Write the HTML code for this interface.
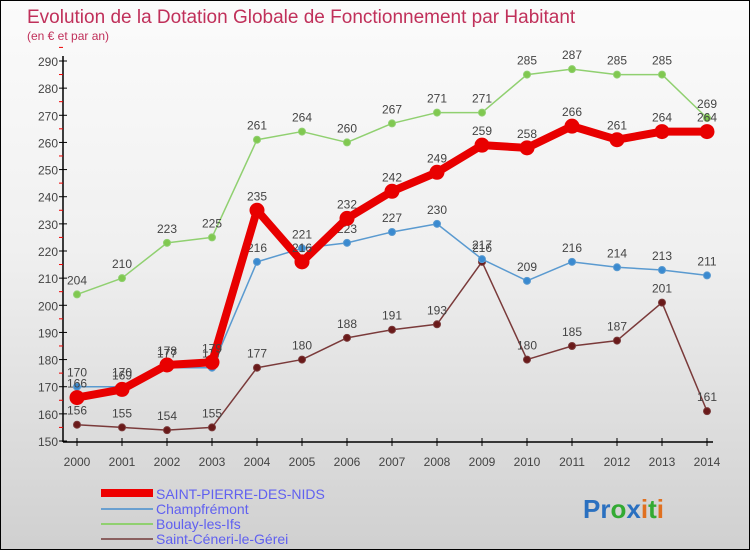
<!DOCTYPE html>
<html><head><meta charset="utf-8"><style>
body{margin:0}
#c{width:750px;height:550px;position:relative;overflow:hidden;box-sizing:border-box;border:1px solid #000;background:linear-gradient(#fbfbfb 0%,#f0f0f0 45%,#d0d0d0 100%);font-family:"Liberation Sans",sans-serif}
</style></head><body>
<div id="c">
<svg id="s" width="750" height="550" style="position:absolute;left:0;top:0">
<text x="26" y="22" font-size="19" fill="#c0305a">Evolution de la Dotation Globale de Fonctionnement par Habitant</text>
<text x="26" y="39" font-size="12" fill="#c0305a">(en € et par an)</text>
<g id="ax"></g><g id="ser"></g>
<g>
<rect x="100" y="488" width="52" height="8" fill="#e00"/>
<text x="155" y="498" font-size="14" fill="#6060f0">SAINT-PIERRE-DES-NIDS</text>
<rect x="100" y="507" width="52" height="2" fill="#6aa0d0"/>
<text x="155" y="513" font-size="14" fill="#6060f0">Champfrémont</text>
<rect x="100" y="522" width="52" height="2" fill="#90d070"/>
<text x="155" y="528" font-size="14" fill="#6060f0">Boulay-les-Ifs</text>
<rect x="100" y="537" width="52" height="2" fill="#8a6060"/>
<text x="155" y="543" font-size="14" fill="#6060f0">Saint-Céneri-le-Gérei</text>
</g>
<text x="582" y="517" font-size="26" font-weight="bold"><tspan fill="#2a70c0">Pr</tspan><tspan fill="#3a3">o</tspan><tspan fill="#2a70c0">x</tspan><tspan fill="#e07020">i</tspan><tspan fill="#3a3">t</tspan><tspan fill="#e07020">i</tspan></text>
</svg>
</div>
<script>
const years=[2000,2001,2002,2003,2004,2005,2006,2007,2008,2009,2010,2011,2012,2013,2014];
const yTicks=[150,160,170,180,190,200,210,220,230,240,250,260,270,280,290];
const spdn=[166,169,178,179,235,216,232,242,249,259,258,266,261,264,264];
const champ=[170,170,177,177,216,221,223,227,230,217,209,216,214,213,211];
const boulay=[204,210,223,225,261,264,260,267,271,271,285,287,285,285,269];
const sceneri=[156,155,154,155,177,180,188,191,193,216,180,185,187,201,161];
const X=i=>76+i*45, Y=v=>440-(v-150)*380/140;
const NS="http://www.w3.org/2000/svg";
function mk(p,t,a){const e=document.createElementNS(NS,t);for(const k in a)e.setAttribute(k,a[k]);p.appendChild(e);return e;}
const ax=document.getElementById('ax');
let l=mk(ax,'line',{x1:62,y1:55,x2:62,y2:441,stroke:'#000','stroke-width':1.5});


l=mk(ax,'line',{x1:62,y1:441,x2:712,y2:441,stroke:'#000','stroke-width':1.5});


yTicks.forEach(v=>{const y=Y(v);
 mk(ax,'line',{x1:58,y1:y,x2:66,y2:y,stroke:'#000'});
 mk(ax,'line',{x1:58,y1:y-13.6,x2:62,y2:y-13.6,stroke:'#e00'});
 const t=mk(ax,'text',{x:57,y:y+5,'font-size':12,fill:'#444','text-anchor':'end'});t.textContent=v;
 
 });
years.forEach((yr,i)=>{const x=X(i);
 mk(ax,'line',{x1:x,y1:437,x2:x,y2:445,stroke:'#000'});
 const t=mk(ax,'text',{x:x,y:465,'font-size':12,fill:'#444','text-anchor':'middle'});t.textContent=yr;
 
 });
const ser=document.getElementById('ser');
function draw(name,d,col,lw,r,dot){
 const g=mk(ser,'g',{});
 
 
 mk(g,'polyline',{points:d.map((v,i)=>X(i)+','+Y(v)).join(' '),fill:'none',stroke:col,'stroke-width':lw,'stroke-linejoin':'round'});
 d.forEach((v,i)=>{const c=mk(g,'circle',{cx:X(i),cy:Y(v),r:r,fill:dot,stroke:col,'stroke-width':1});
  
  
  const t=mk(g,'text',{x:X(i),y:Y(v)-10,'font-size':12,fill:'#444','text-anchor':'middle'});t.textContent=v;
  
  });
}
draw('series-boulay',boulay,'#90d070',1.5,3.5,'#80c850');
draw('series-saint-ceneri',sceneri,'#7a3a3a',1.5,3.5,'#6a1a1a');
draw('series-champfremont',champ,'#5a9ad0',1.5,3.5,'#3a8ad0');
draw('series-saint-pierre',spdn,'#e80000',8,7,'#e80000');
</script>
</body></html>
